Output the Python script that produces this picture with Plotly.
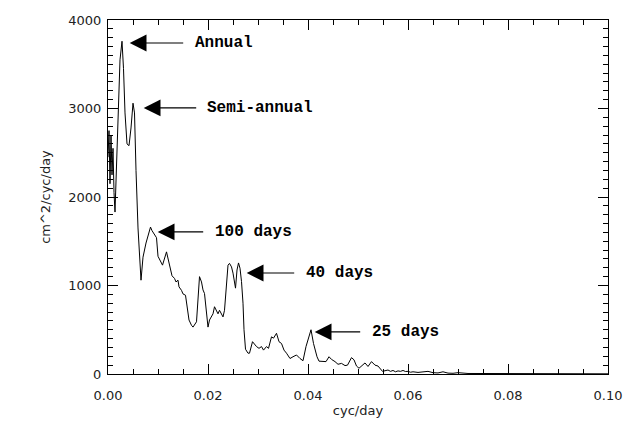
import plotly.graph_objects as go

freq = [0.0000, 0.0002, 0.0004, 0.0006, 0.0008, 0.0010, 0.0012, 0.0014, 0.0017, 0.0020,
        0.0024, 0.0028, 0.0031, 0.0034, 0.0038, 0.0042, 0.0046, 0.0050, 0.0053, 0.0056,
        0.0060, 0.0066, 0.0070, 0.0076, 0.0085, 0.0088, 0.0097, 0.0100, 0.0109, 0.0117,
        0.0124, 0.0128, 0.0133, 0.0136, 0.0140, 0.0142, 0.0147, 0.0150, 0.0155, 0.0158,
        0.0162, 0.0167, 0.0170, 0.0177, 0.0179, 0.0182, 0.0183, 0.0187, 0.0190, 0.0193,
        0.0197, 0.0200, 0.0203, 0.0207, 0.0210, 0.0213, 0.0217, 0.0220, 0.0223, 0.0227,
        0.0230, 0.0233, 0.0237, 0.0240, 0.0243, 0.0247, 0.0250, 0.0253, 0.0255, 0.0258,
        0.0261, 0.0264, 0.0267, 0.0270, 0.0272, 0.0275, 0.0280, 0.0283, 0.0289, 0.0297,
        0.0302, 0.0307, 0.0311, 0.0317, 0.0321, 0.0327, 0.0331, 0.0337, 0.0342, 0.0347,
        0.0352, 0.0357, 0.0364, 0.0370, 0.0377, 0.0384, 0.0390, 0.0396, 0.0401, 0.0406,
        0.0411, 0.0418, 0.0422, 0.0430, 0.0436, 0.0442, 0.0447, 0.0454, 0.0460, 0.0467,
        0.0474, 0.0479, 0.0484, 0.0487, 0.0492, 0.0497, 0.0502, 0.0508, 0.0514, 0.0520,
        0.0527, 0.0534, 0.0540, 0.0549, 0.0555, 0.0560, 0.0565, 0.0570, 0.0575, 0.0580,
        0.0585, 0.0590, 0.0595, 0.0600, 0.0605, 0.0610, 0.0620, 0.0630, 0.0640, 0.0650,
        0.0660, 0.0670, 0.0680, 0.0690, 0.0700, 0.0720, 0.0750, 0.0780, 0.0800, 0.0850,
        0.0900, 0.0950, 0.1000]

power = [2450, 2750, 2150, 2700, 2250, 2550, 2050, 1830, 2350, 3000,
         3550, 3760, 3450, 2950, 2600, 2580, 2780, 3060, 2950, 2300,
         1650, 1060, 1320, 1480, 1660, 1620, 1540, 1330, 1230, 1380,
         1190, 1110, 1080, 1040, 1060, 985, 945, 905, 890, 775,
         610, 550, 530, 590, 760, 950, 1100, 1040, 950, 910,
         680, 530, 610, 645, 680, 760, 720, 680, 720, 665,
         645, 720, 985, 1230, 1250, 1210, 1140, 1060, 970, 1175,
         1255, 1195, 1045, 800, 500, 280, 235, 235, 365, 310,
         290, 310, 270, 310, 290, 420, 405, 460, 365, 345,
         270, 235, 175, 195, 215, 175, 150, 310, 420, 500,
         345, 195, 145, 140, 140, 195, 165, 140, 110, 120,
         95, 100, 160, 185, 160, 90, 65, 100, 125, 85,
         140, 100, 90, 30, 35, 45, 30, 40, 25, 35,
         30, 40, 28, 30, 20, 25, 18, 22, 30, 15,
         12, 25, 10, 8, 15, 6, 5, 8, 4, 3,
         3, 2, 2]

labels = ["Annual", "Semi-annual", "100 days", "40 days", "25 days"]
label_freq = [0.00434, 0.00714, 0.00994, 0.02774, 0.04134]
label_power = [3740, 3006, 1605, 1141, 475]
label_text_x = [0.01694, 0.01934, 0.02094, 0.03914, 0.05234]
arrow_len = [55, 54, 47, 49, 47]

x_ticks = [0.00, 0.02, 0.04, 0.06, 0.08, 0.10]
x_ticktext = ["0.00", "0.02", "0.04", "0.06", "0.08", "0.10"]
y_ticks = [0, 1000, 2000, 3000, 4000]

fig = go.Figure()
fig.add_trace(go.Scatter(x=freq, y=power, mode="lines",
                         line=dict(color="black", width=1), showlegend=False))

annotations = []
for lab, fx, fy, tx, al in zip(labels, label_freq, label_power, label_text_x, arrow_len):
    annotations.append(dict(x=fx, y=fy, xref="x", yref="y", ax=al, ay=0,
                            axref="pixel", ayref="pixel", text="", showarrow=True,
                            arrowhead=2, arrowsize=2.8, arrowwidth=1.2,
                            arrowcolor="black", standoff=0, startstandoff=0))
    annotations.append(dict(x=tx, y=fy, xref="x", yref="y", text="<b>" + lab + "</b>",
                            showarrow=False, xanchor="left", yanchor="middle",
                            font=dict(family="Liberation Mono, monospace", size=16, color="black")))

axis_font = dict(family="DejaVu Sans, sans-serif", size=13, color="#222")

fig.update_layout(
    width=637, height=422,
    margin=dict(l=108, r=29, t=20, b=48),
    plot_bgcolor="white", paper_bgcolor="white",
    annotations=annotations,
    xaxis=dict(range=[0, 0.1], tickvals=x_ticks, ticktext=x_ticktext, automargin=False,
               showgrid=False, zeroline=False, showline=True, linecolor="black", linewidth=1,
               mirror="ticks", ticks="inside", ticklen=10, tickcolor="black", tickwidth=1,
               minor=dict(dtick=0.005, ticks="inside", ticklen=5, tickcolor="black", showgrid=False),
               tickfont=axis_font, ticklabelstandoff=9,
               title=dict(text="cyc/day", font=axis_font, standoff=4)),
    yaxis=dict(range=[0, 4000], tickvals=y_ticks, automargin=False,
               showgrid=False, zeroline=False, showline=True, linecolor="black", linewidth=1,
               mirror="ticks", ticks="inside", ticklen=10, tickcolor="black", tickwidth=1,
               minor=dict(dtick=100, ticks="inside", ticklen=5, tickcolor="black", showgrid=False),
               tickfont=axis_font, ticklabelstandoff=3,
               title=dict(text="cm^2/cyc/day", font=axis_font, standoff=14)),
)

fig.write_html("out.html")
